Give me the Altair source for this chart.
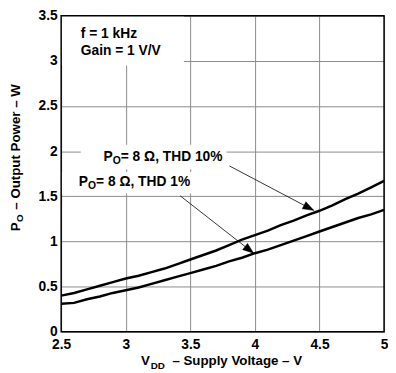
import altair as alt
import pandas as pd
import math

# ---- data ----
vdd = [2.5, 2.6, 2.7, 2.8, 2.9, 3.0, 3.1, 3.2, 3.3, 3.4, 3.5, 3.6, 3.7,
       3.8, 3.9, 4.0, 4.1, 4.2, 4.3, 4.4, 4.5, 4.6, 4.7, 4.8, 4.9, 5.0]
po_thd10 = [0.40, 0.43, 0.47, 0.51, 0.55, 0.59, 0.62, 0.66, 0.70, 0.75, 0.80, 0.85, 0.90,
            0.96, 1.02, 1.07, 1.12, 1.18, 1.23, 1.29, 1.34, 1.40, 1.47, 1.53, 1.60, 1.67]
po_thd1 = [0.31, 0.32, 0.36, 0.39, 0.43, 0.46, 0.49, 0.53, 0.57, 0.61, 0.65, 0.69, 0.73,
           0.78, 0.82, 0.87, 0.91, 0.96, 1.01, 1.06, 1.11, 1.16, 1.21, 1.26, 1.30, 1.35]
x_ticks = [2.5, 3, 3.5, 4, 4.5, 5]
y_ticks = [0, 0.5, 1, 1.5, 2, 2.5, 3, 3.5]

W, H = 328, 321
FONT = "Liberation Sans"
GRID = "#8a8a8a"
PX_X = W / 2.5   # pixels per volt
PX_Y = H / 3.5   # pixels per watt

df = pd.DataFrame({
    "vdd": vdd * 2,
    "po": po_thd10 + po_thd1,
    "series": ["THD 10%"] * len(vdd) + ["THD 1%"] * len(vdd),
})

xs = alt.Scale(domain=[2.5, 5], nice=False, zero=False)
ys = alt.Scale(domain=[0, 3.5], nice=False, zero=False)

xaxis = alt.Axis(values=x_ticks, format="~g", title=None, domain=False, ticks=False,
                 grid=True, gridColor=GRID, gridWidth=1, labelFont=FONT,
                 labelFontSize=14, labelFontWeight="bold", labelColor="black",
                 labelPadding=6, labelFlush=False)
yaxis = alt.Axis(values=y_ticks, format="~g", title=None, domain=False, ticks=False,
                 grid=True, gridColor=GRID, gridWidth=1, labelFont=FONT,
                 labelFontSize=14, labelFontWeight="bold", labelColor="black",
                 labelPadding=4, labelFlush=False)

lines = alt.Chart(df).mark_line(color="black", strokeWidth=2.5).encode(
    x=alt.X("vdd:Q", scale=xs, axis=xaxis),
    y=alt.Y("po:Q", scale=ys, axis=yaxis),
    detail="series:N",
)

# white boxes behind in-plot text
boxes = pd.DataFrame({
    "x": [2.5, 2.652, 2.5],
    "x2": [3.45, 3.78, 3.52],
    "y": [2.95, 1.80, 1.53],
    "y2": [3.5, 2.07, 1.77],
})
box_layer = alt.Chart(boxes).mark_rect(fill="white").encode(
    x=alt.X("x:Q", scale=xs), x2="x2", y=alt.Y("y:Q", scale=ys), y2="y2")

# condition text
cond = pd.DataFrame({"x": [2.652, 2.652], "y": [3.255, 3.063],
                     "t": ["f = 1 kHz", "Gain = 1 V/V"]})
cond_layer = alt.Chart(cond).mark_text(
    align="left", baseline="alphabetic", font=FONT, fontSize=14, fontWeight="bold",
    color="black").encode(x=alt.X("x:Q", scale=xs), y=alt.Y("y:Q", scale=ys), text="t:N")

# series labels with subscript
lab = pd.DataFrame({"x": [2.828, 2.637], "y": [1.889, 1.611],
                    "rest": [" = 8 \u03a9, THD 10%", " = 8 \u03a9, THD 1%"]})
lab_p = alt.Chart(lab).mark_text(
    align="left", baseline="alphabetic", font=FONT, fontSize=14, fontWeight="bold",
    color="black").encode(x=alt.X("x:Q", scale=xs), y=alt.Y("y:Q", scale=ys),
                          text=alt.value("P"))
lab_o = alt.Chart(lab).mark_text(
    align="left", baseline="alphabetic", font=FONT, fontSize=10.5, fontWeight="bold",
    color="black", dx=9.4, dy=3).encode(x=alt.X("x:Q", scale=xs), y=alt.Y("y:Q", scale=ys),
                                        text=alt.value("O"))
lab_r = alt.Chart(lab).mark_text(
    align="left", baseline="alphabetic", font=FONT, fontSize=14, fontWeight="bold",
    color="black", dx=17.5).encode(x=alt.X("x:Q", scale=xs), y=alt.Y("y:Q", scale=ys),
                                   text="rest:N")

# arrows (start of leader, tip on the curve)
arr_x = [3.803, 3.422]
arr_y = [1.836, 1.505]
tip_x = [4.455, 3.99]
tip_y = [1.345, 0.87]
arrows = pd.DataFrame({"x": arr_x, "y": arr_y, "x2": tip_x, "y2": tip_y})
arrow_lines = alt.Chart(arrows).mark_rule(color="black", strokeWidth=0.8).encode(
    x=alt.X("x:Q", scale=xs), y=alt.Y("y:Q", scale=ys), x2="x2", y2="y2")

HEAD_LEN, HEAD_HALF = 11.0, 4.0
heads = []
for i in range(len(arr_x)):
    dxp = (tip_x[i] - arr_x[i]) * PX_X
    dyp = (arr_y[i] - tip_y[i]) * PX_Y          # screen-down distance
    L = math.hypot(dxp, dyp)
    ux, uy = dxp / L, dyp / L                    # screen direction
    nx, ny = -uy, ux
    pts_px = [(0.0, 0.0),
              (-ux * HEAD_LEN + nx * HEAD_HALF, -uy * HEAD_LEN + ny * HEAD_HALF),
              (-ux * HEAD_LEN - nx * HEAD_HALF, -uy * HEAD_LEN - ny * HEAD_HALF)]
    pts = sorted([(tip_x[i] + px / PX_X, tip_y[i] - py / PX_Y) for px, py in pts_px])
    (xa, ya), (xm, ym), (xc, yc) = pts
    y_ac = ya + (yc - ya) * (xm - xa) / (xc - xa)
    tri = pd.DataFrame({"tx": [xa, xm, xc], "ty": [ya, ym, yc], "ty2": [ya, y_ac, yc]})
    heads.append(
        alt.Chart(tri).mark_area(color="black", opacity=1, interpolate="linear",
                                 stroke="black", strokeWidth=0.5).encode(
            x=alt.X("tx:Q", scale=xs),
            y=alt.Y("ty:Q", scale=ys, stack=None),
            y2="ty2")
    )

# frame
frame = alt.Chart(pd.DataFrame({"a": [0]})).mark_rect(
    fillOpacity=0, stroke="black", strokeWidth=1.5).encode(
    x=alt.value(0), x2=alt.value(W), y=alt.value(0), y2=alt.value(H))

# axis titles with subscripts
tdf = pd.DataFrame({"a": [0]})
def ttext(txt, x, y, size=13.5, angle=0):
    return alt.Chart(tdf).mark_text(
        align="left", baseline="alphabetic", font=FONT, fontSize=size,
        fontWeight="bold", color="black", angle=angle).encode(
        x=alt.value(x), y=alt.value(y), text=alt.value(txt))

xt = (ttext("V", 81, 355) + ttext("DD", 91, 358.5, 10)
      + ttext("\u2013 Supply Voltage \u2013 V", 113, 355))
yt = (ttext("P", -42, 219, 13.5, 270) + ttext("O", -39, 209.5, 10, 270)
      + ttext("\u2013 Output Power \u2013 W", -42, 197, 13.5, 270))

chart = alt.layer(
    lines, box_layer, cond_layer, lab_p, lab_o, lab_r, arrow_lines, *heads,
    frame, xt, yt
).properties(
    width=W, height=H,
    autosize=alt.AutoSizeParams(type="none"),
    padding={"left": 54, "top": 5, "right": 4, "bottom": 37},
).configure_view(stroke=None)

chart.save("out.html", embed_options={"renderer": "svg", "actions": False})
